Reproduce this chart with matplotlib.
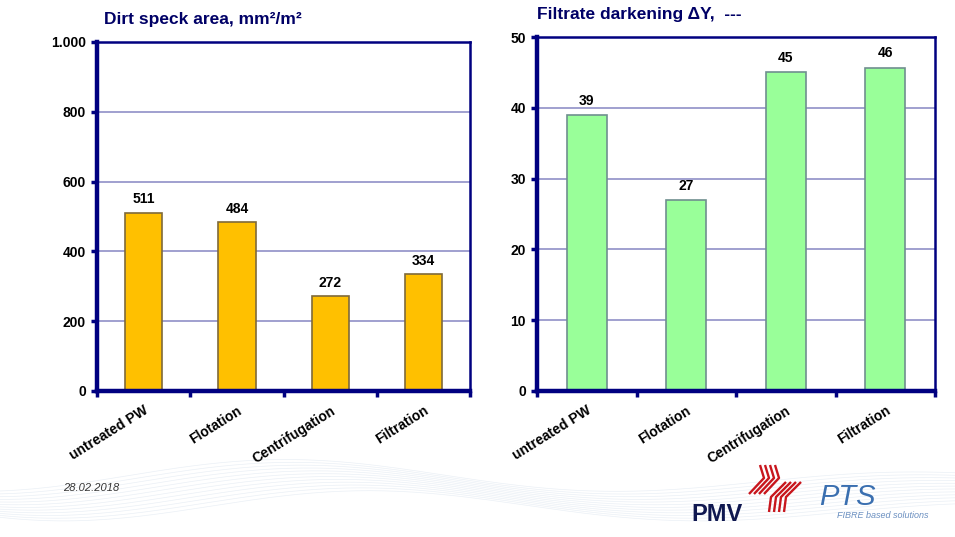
import matplotlib
matplotlib.use("Agg")
from matplotlib import pyplot as plt
from matplotlib.lines import Line2D
import numpy as np

plt.rcParams["font.family"] = ["Liberation Sans", "DejaVu Sans"]

categories = ["untreated PW", "Flotation", "Centrifugation", "Filtration"]
dirt_area = [511, 484, 272, 334]
darkening = [39, 27, 45, 45.7]

NAVY = "#000080"
GRID = "#9999cc"
W, H = 955, 537


def style_axes(ax, ymax, step, title, title_x):
    ax.set_xlim(-0.5, len(categories) - 0.5)
    ax.set_ylim(0, ymax)
    ax.set_yticks(np.arange(0, ymax + 1, step))
    ax.yaxis.grid(True, color=GRID, linewidth=1.3)
    ax.set_axisbelow(True)
    for side in ["left", "bottom"]:
        ax.spines[side].set_linewidth(3.2)
        ax.spines[side].set_color(NAVY)
    for side in ["top", "right"]:
        ax.spines[side].set_linewidth(1.8)
        ax.spines[side].set_color(NAVY)
    ax.set_xticks(np.arange(len(categories) + 1) - 0.5)
    ax.set_xticklabels([])
    ax.tick_params(axis="x", length=4, width=2.5, color=NAVY, direction="out")
    ax.tick_params(axis="y", length=4, width=2.5, color=NAVY, direction="out",
                   labelsize=10, pad=4)
    for lbl in ax.get_yticklabels():
        lbl.set_fontweight("bold")
    ax.set_xticks(np.arange(len(categories)), minor=True)
    ax.set_xticklabels(categories, minor=True, rotation=32, ha="right",
                       rotation_mode="anchor", fontsize=10, fontweight="bold")
    ax.tick_params(axis="x", which="minor", length=0, pad=9)
    ax.set_title(title, loc="left", fontsize=12.5, fontweight="bold",
                 color="#000066", pad=13, x=title_x)


def px_line(points, **kw):
    xs = [p[0] / W for p in points]
    ys = [1 - p[1] / H for p in points]
    fig.add_artist(Line2D(xs, ys, transform=fig.transFigure, **kw))


fig = plt.figure(figsize=(9.55, 5.37), dpi=100)

# faint wave lines in the slide background
t = np.linspace(0, 1, 200)
for k in range(12):
    ys = 0.03 + k * 0.005 + 0.07 * np.sin(np.pi * (t * 1.5 - 0.1 + k * 0.012)) ** 2 * (1 - t * 0.5)
    fig.add_artist(Line2D(t, ys, transform=fig.transFigure, color="#d6e0ec",
                          linewidth=0.5, alpha=0.5, zorder=0))

ax1 = fig.add_axes([0.1016, 0.2719, 0.3906, 0.65])
ax1.bar(range(len(categories)), dirt_area, width=0.4, color="#ffc000",
        edgecolor="#7f6a3a", linewidth=1.2)
for i, v in enumerate(dirt_area):
    ax1.text(i, v + 18, f"{v:.0f}", ha="center", va="bottom",
             fontsize=10, fontweight="bold")
style_axes(ax1, 1000, 200, "Dirt speck area, mm²/m²", 0.02)
ax1.set_yticklabels(["0", "200", "400", "600", "800", "1.000"])

ax2 = fig.add_axes([0.5623, 0.2719, 0.4168, 0.659])
ax2.bar(range(len(categories)), darkening, width=0.4, color="#99ff99",
        edgecolor="#6f8f8f", linewidth=1.2)
for i, v in enumerate(darkening):
    ax2.text(i, v + 1.0, f"{v:.0f}", ha="center", va="bottom",
             fontsize=10, fontweight="bold")
style_axes(ax2, 50, 10, "Filtrate darkening ΔY,  ---", 0.0)

# footer
fig.text(0.066, 0.085, "28.02.2018", fontsize=8, style="italic", color="#333333")
fig.text(0.724, 0.03, "PMV", fontsize=17, fontweight="bold", color="#101850")
for k in range(4):
    dx = 5 * k
    px_line([(760 + dx, 465), (764 + dx, 478), (749 + dx, 494)],
            color="#c8161d", linewidth=1.7, solid_capstyle="butt")
    px_line([(786 + dx, 482), (771 + dx, 497), (769 + dx, 512)],
            color="#c8161d", linewidth=1.7, solid_capstyle="butt")
fig.text(0.858, 0.06, "PTS", fontsize=21, style="italic", color="#3a6fb0")
fig.text(0.876, 0.035, "FIBRE based solutions", fontsize=6.5, style="italic",
         color="#6a8fc0")

fig.savefig("out.png", dpi=100)
